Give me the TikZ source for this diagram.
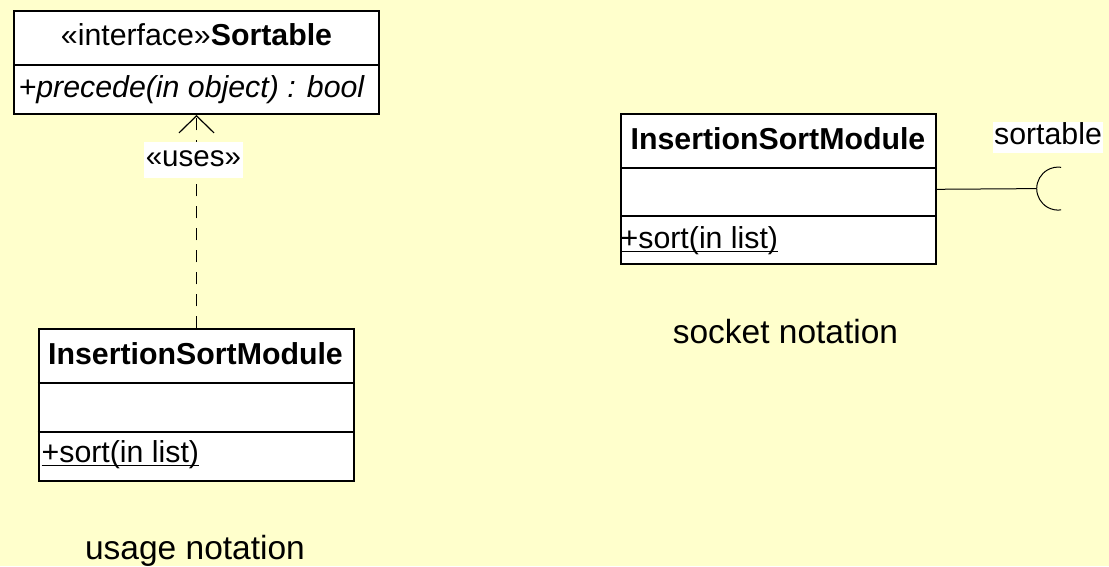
\documentclass[tikz,border=0pt]{standalone}
\usepackage{fontspec}
\setmainfont{Liberation Sans}
\usetikzlibrary{arrows.meta,calc}
\definecolor{paper}{HTML}{FFFFCC}
\tikzset{
  classbox/.style={draw=black, fill=white, line width=2pt, anchor=north west, inner sep=0pt},
  divider/.style={line width=2pt},
  boxtext/.style={inner sep=0pt, font=\fontsize{30.3}{36}\selectfont},
  caption/.style={inner sep=0pt, font=\fontsize{33.5}{40}\selectfont},
  usestag/.style={fill=white, inner sep=0pt, minimum width=99.6pt,
    text height=24.3pt, text depth=12.3pt, font=\fontsize{29.5}{35}\selectfont},
  socktag/.style={fill=white, inner xsep=1.5pt, inner ysep=0pt,
    text height=22.6pt, text depth=8.4pt, font=\fontsize{30.3}{36}\selectfont},
  usesline/.style={line width=1.2pt, dash pattern=on 12pt off 10pt},
  wire/.style={line width=1pt},
  opline/.style={line width=1.8pt},
}
\begin{document}
\begin{tikzpicture}[x=1pt, y=-1pt]
  \fill[paper] (0,0) rectangle (1109,566);
  \useasboundingbox (0,0) rectangle (1109,566);

  % interface Sortable
  \node (iface) [classbox, minimum width=364.4pt, minimum height=103pt] at (13.3,10) {};
  \draw[divider] (13.3,65) -- (377.7,65);
  \node (ifacename) [boxtext, anchor=base] at (196.5,45) {«interface»\textbf{Sortable}};
  \node (ifaceop) [boxtext, anchor=base west] at (18.5,97) {\itshape +precede(in object) : bool};

  % InsertionSortModule, usage notation
  \node (umod) [classbox, minimum width=315.6pt, minimum height=151.7pt] at (37.7,328.3) {};
  \draw[divider] (37.7,382.7) -- (353.3,382.7);
  \draw[divider] (37.7,431.7) -- (353.3,431.7);
  \node (umodname) [boxtext, anchor=base] at (195.5,364) {\textbf{InsertionSortModule}};
  \node (umodop) [boxtext, anchor=base west] at (41.5,462.5) {+sort(in list)};
  \draw[opline] ($(umodop.base west)+(0,3)$) -- ($(umodop.base east)+(0,3)$);
  \node (ucap) [caption, anchor=base] at (195,559) {usage notation};

  % dependency
  \draw[usesline, -{Straight Barb[length=17pt, width=35pt, line width=1.2pt]}]
    (umod.north -| iface.south) -- (iface.south);
  \node (uses) [usestag, anchor=base] at (193.4,166) {«uses»};

  % InsertionSortModule, socket notation
  \node (smod) [classbox, minimum width=315pt, minimum height=150pt] at (620,113.3) {};
  \draw[divider] (620,168.3) -- (935,168.3);
  \draw[divider] (620,216) -- (935,216);
  \node (smodname) [boxtext, anchor=base] at (778,149.3) {\textbf{InsertionSortModule}};
  \node (smodop) [boxtext, anchor=base west] at (620.5,248.5) {+sort(in list)};
  \draw[opline] ($(smodop.base west)+(0,3)$) -- ($(smodop.base east)+(0,3)$);
  \node (scap) [caption, anchor=base] at (785.5,343.3) {socket notation};

  % required interface socket
  \coordinate (sock) at (1036.7,188.6);
  \draw[wire] (smod.east) -- (sock);
  \draw[wire] (sock) arc[start angle=180, end angle=82, radius=21.5];
  \draw[wire] (sock) arc[start angle=180, end angle=278, radius=21.5];
  \node (socklabel) [socktag, anchor=base] at (1048,144.3) {sortable};
\end{tikzpicture}
\end{document}
